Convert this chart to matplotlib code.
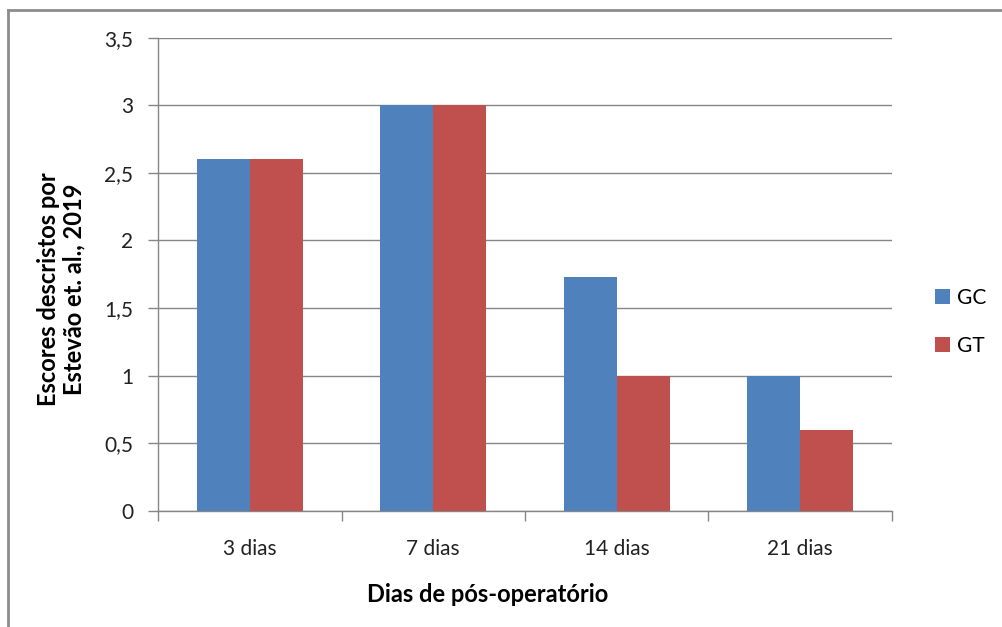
import matplotlib.pyplot as plt
import numpy as np
from matplotlib.lines import Line2D

categories = ['3 dias', '7 dias', '14 dias', '21 dias']
gc_values = [2.6, 3.0, 1.73, 1.0]
gt_values = [2.6, 3.0, 1.0, 0.6]
y_ticks = [0, 0.5, 1, 1.5, 2, 2.5, 3, 3.5]
y_tick_labels = ['0', '0,5', '1', '1,5', '2', '2,5', '3', '3,5']

blue = '#4F81BD'
red = '#C0504D'
grid_color = '#868686'

plt.rcParams['font.family'] = ['Lato', 'DejaVu Sans']

fig = plt.figure(figsize=(10.02, 6.27), dpi=100)
ax = fig.add_axes([0.1577, 0.185, 0.7325, 0.755])

x = np.arange(len(categories))
width = 0.288
ax.bar(x - width / 2, gc_values, width, color=blue, label='GC', zorder=3)
ax.bar(x + width / 2, gt_values, width, color=red, label='GT', zorder=3)

ax.set_xlim(-0.5, len(categories) - 0.5)
ax.set_ylim(0, 3.5)
ax.set_yticks(y_ticks)
ax.set_yticklabels(y_tick_labels, fontsize=15, color='#222222')
ax.set_xticks(x)
ax.set_xticklabels(categories, fontsize=15, color='#222222')
ax.set_xticks(np.arange(len(categories) + 1) - 0.5, minor=True)
ax.tick_params(axis='x', which='major', length=0, pad=20)
ax.tick_params(axis='x', which='minor', length=7, color=grid_color, width=1)
ax.tick_params(axis='y', length=7, color=grid_color, width=1, pad=11)

ax.yaxis.grid(True, color=grid_color, linewidth=1, zorder=0)
for spine in ['top', 'right']:
    ax.spines[spine].set_visible(False)
for spine in ['left', 'bottom']:
    ax.spines[spine].set_color(grid_color)
    ax.spines[spine].set_linewidth(1)

# axis titles placed like the original chart
fig.text(61 / 1002, 1 - 289 / 627, 'Escores descristos por\nEstevão et. al., 2019',
         rotation=90, ha='center', va='center', fontsize=17, fontweight='bold',
         linespacing=1.15, multialignment='center')
fig.text(488 / 1002, 1 - 595 / 627, 'Dias de pós-operatório',
         ha='center', va='center', fontsize=17, fontweight='bold')

ax.legend(loc='center left', bbox_to_anchor=(1.0586, 0.40), frameon=False,
          fontsize=15, handlelength=0.7, handleheight=0.7, handletextpad=0.35,
          labelspacing=1.35, borderaxespad=0, borderpad=0)

# outer chart border (left and top visible)
fig.add_artist(Line2D([0.008, 0.008], [0, 0.984], color='#8c8c8c', lw=2,
                      transform=fig.transFigure))
fig.add_artist(Line2D([0.008, 1.0], [0.984, 0.984], color='#8c8c8c', lw=2,
                      transform=fig.transFigure))

plt.savefig('out.png', dpi=100)
